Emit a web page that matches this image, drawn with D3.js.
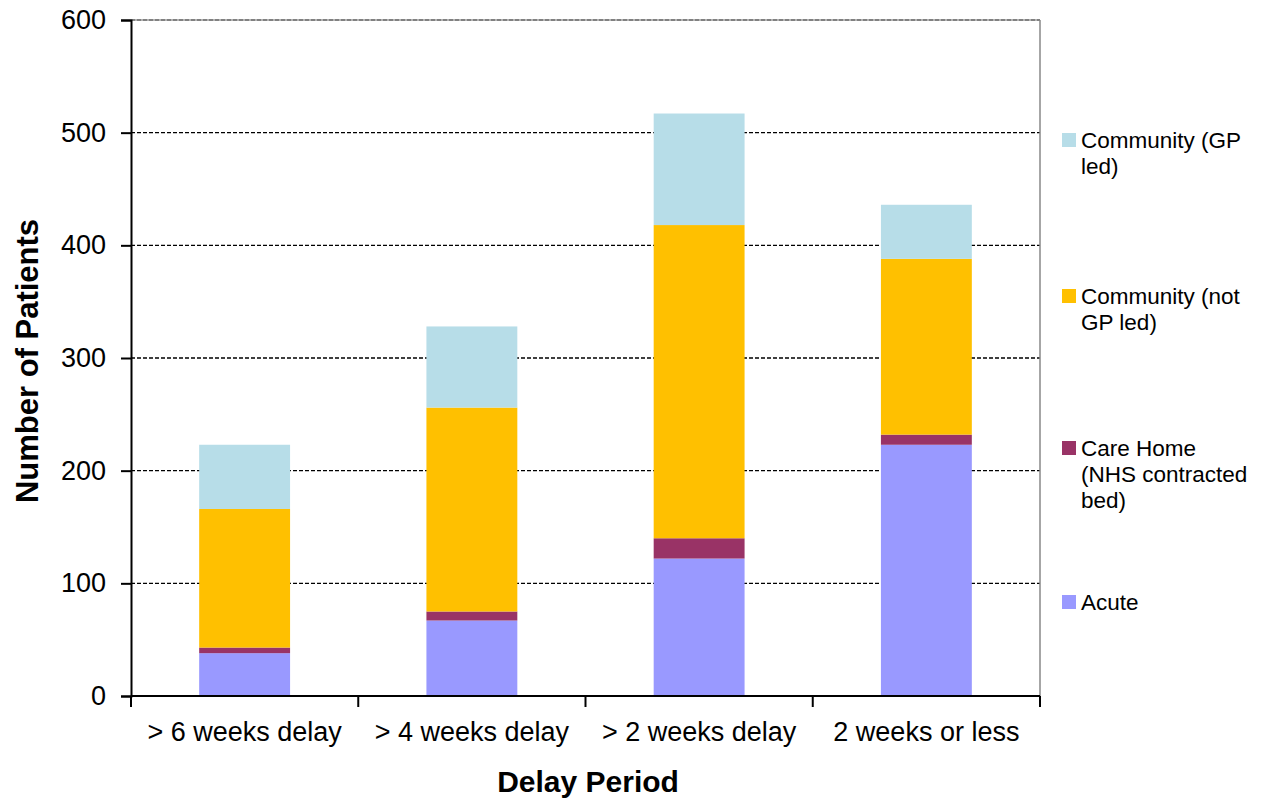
<!DOCTYPE html>
<html><head><meta charset="utf-8">
<script src="https://cdn.jsdelivr.net/npm/d3@7"></script>
<style>body{margin:0;background:#fff}svg{display:block;font-family:"Liberation Sans",Arial,sans-serif}</style>
</head><body><svg id="c" width="1262" height="801"></svg>
<script>
const categories = ["> 6 weeks delay", "> 4 weeks delay", "> 2 weeks delay", "2 weeks or less"];
const acute = [38, 67, 122, 223];
const careHome = [5, 8, 18, 9];
const communityNotGP = [123, 181, 278, 156];
const communityGP = [57, 72, 99, 48];
const yTicks = [0, 100, 200, 300, 400, 500, 600];
const seriesNames = ["Acute", "Care Home (NHS contracted bed)", "Community (not GP led)", "Community (GP led)"];
const seriesColors = ["#9999FF", "#993366", "#FFC000", "#B7DDE8"];
const legendLines = [["Community (GP", "led)"], ["Community (not", "GP led)"], ["Care Home", "(NHS contracted", "bed)"], ["Acute"]];

const svg = d3.select("#c");
const L = 131, R = 1040, T = 20, B = 696;
const x = d3.scaleBand().domain(categories).range([L, R]).paddingInner(0.6).paddingOuter(0.3);
const xb = d3.scaleBand().domain(categories).range([L, R]);
const y = d3.scaleLinear().domain([0, 600]).range([B, T]);

const rows = categories.map((c, i) => ({cat: c, s0: acute[i], s1: careHome[i], s2: communityNotGP[i], s3: communityGP[i]}));
const stack = d3.stack().keys(["s0", "s1", "s2", "s3"])(rows);

// gridlines
svg.append("g").selectAll("line").data(yTicks.filter(d => d > 0)).join("line")
  .attr("x1", L).attr("x2", R).attr("y1", d => y(d)).attr("y2", d => y(d))
  .attr("stroke", "#000").attr("stroke-width", 1.4).attr("stroke-dasharray", "4,2");
// top & right border
svg.append("line").attr("x1", L).attr("x2", R).attr("y1", T).attr("y2", T).attr("stroke", "#999").attr("stroke-width", 1.5);
svg.append("line").attr("x1", R).attr("x2", R).attr("y1", T).attr("y2", B).attr("stroke", "#888").attr("stroke-width", 1.5);

// bars
svg.append("g").selectAll("g").data(stack).join("g").attr("fill", (d, i) => seriesColors[i])
  .selectAll("rect").data(d => d).join("rect")
  .attr("x", d => x(d.data.cat)).attr("width", x.bandwidth())
  .attr("y", d => y(d[1])).attr("height", d => y(d[0]) - y(d[1]));

// y axis
const ya = svg.append("g").attr("transform", `translate(${L},0)`)
  .call(d3.axisLeft(y).tickValues(yTicks).tickSize(10).tickPadding(15));
ya.select(".domain").attr("stroke", "#000").attr("stroke-width", 2);
ya.selectAll(".tick line").attr("stroke", "#000").attr("stroke-width", 2);
ya.selectAll("text").attr("font-size", 27).attr("fill", "#000").attr("font-family", "Liberation Sans, Arial, sans-serif");

// x axis
const xa = svg.append("g").attr("transform", `translate(0,${B})`);
xa.append("line").attr("x1", L).attr("x2", R).attr("stroke", "#000").attr("stroke-width", 2);
xa.selectAll("line.tk").data(categories.concat(["__end"])).join("line").attr("class", "tk")
  .attr("x1", (d, i) => i < categories.length ? xb(d) : R).attr("x2", (d, i) => i < categories.length ? xb(d) : R)
  .attr("y1", 0).attr("y2", 11).attr("stroke", "#000").attr("stroke-width", 2);
xa.selectAll("text").data(categories).join("text")
  .attr("x", d => xb(d) + xb.bandwidth() / 2).attr("y", 45).attr("text-anchor", "middle")
  .attr("font-size", 27).attr("fill", "#000").text(d => d);

// axis titles
svg.append("text").attr("x", 588).attr("y", 792).attr("text-anchor", "middle")
  .attr("font-size", 30).attr("font-weight", "bold").text("Delay Period");
svg.append("text").attr("transform", "translate(38,361) rotate(-90)").attr("text-anchor", "middle")
  .attr("font-size", 31).attr("font-weight", "bold").text("Number of Patients");

// legend
const legendY = [148, 304, 456, 610];
const legendColors = [seriesColors[3], seriesColors[2], seriesColors[1], seriesColors[0]];
const lg = svg.append("g");
legendLines.forEach((lines, i) => {
  lg.append("rect").attr("x", 1062).attr("y", legendY[i] - 15).attr("width", 14).attr("height", 14).attr("fill", legendColors[i]);
  const t = lg.append("text").attr("x", 1081).attr("y", legendY[i]).attr("font-size", 22.5).attr("fill", "#000");
  lines.forEach((ln, j) => t.append("tspan").attr("x", 1081).attr("dy", j === 0 ? 0 : 26).text(ln));
});
</script></body></html>
